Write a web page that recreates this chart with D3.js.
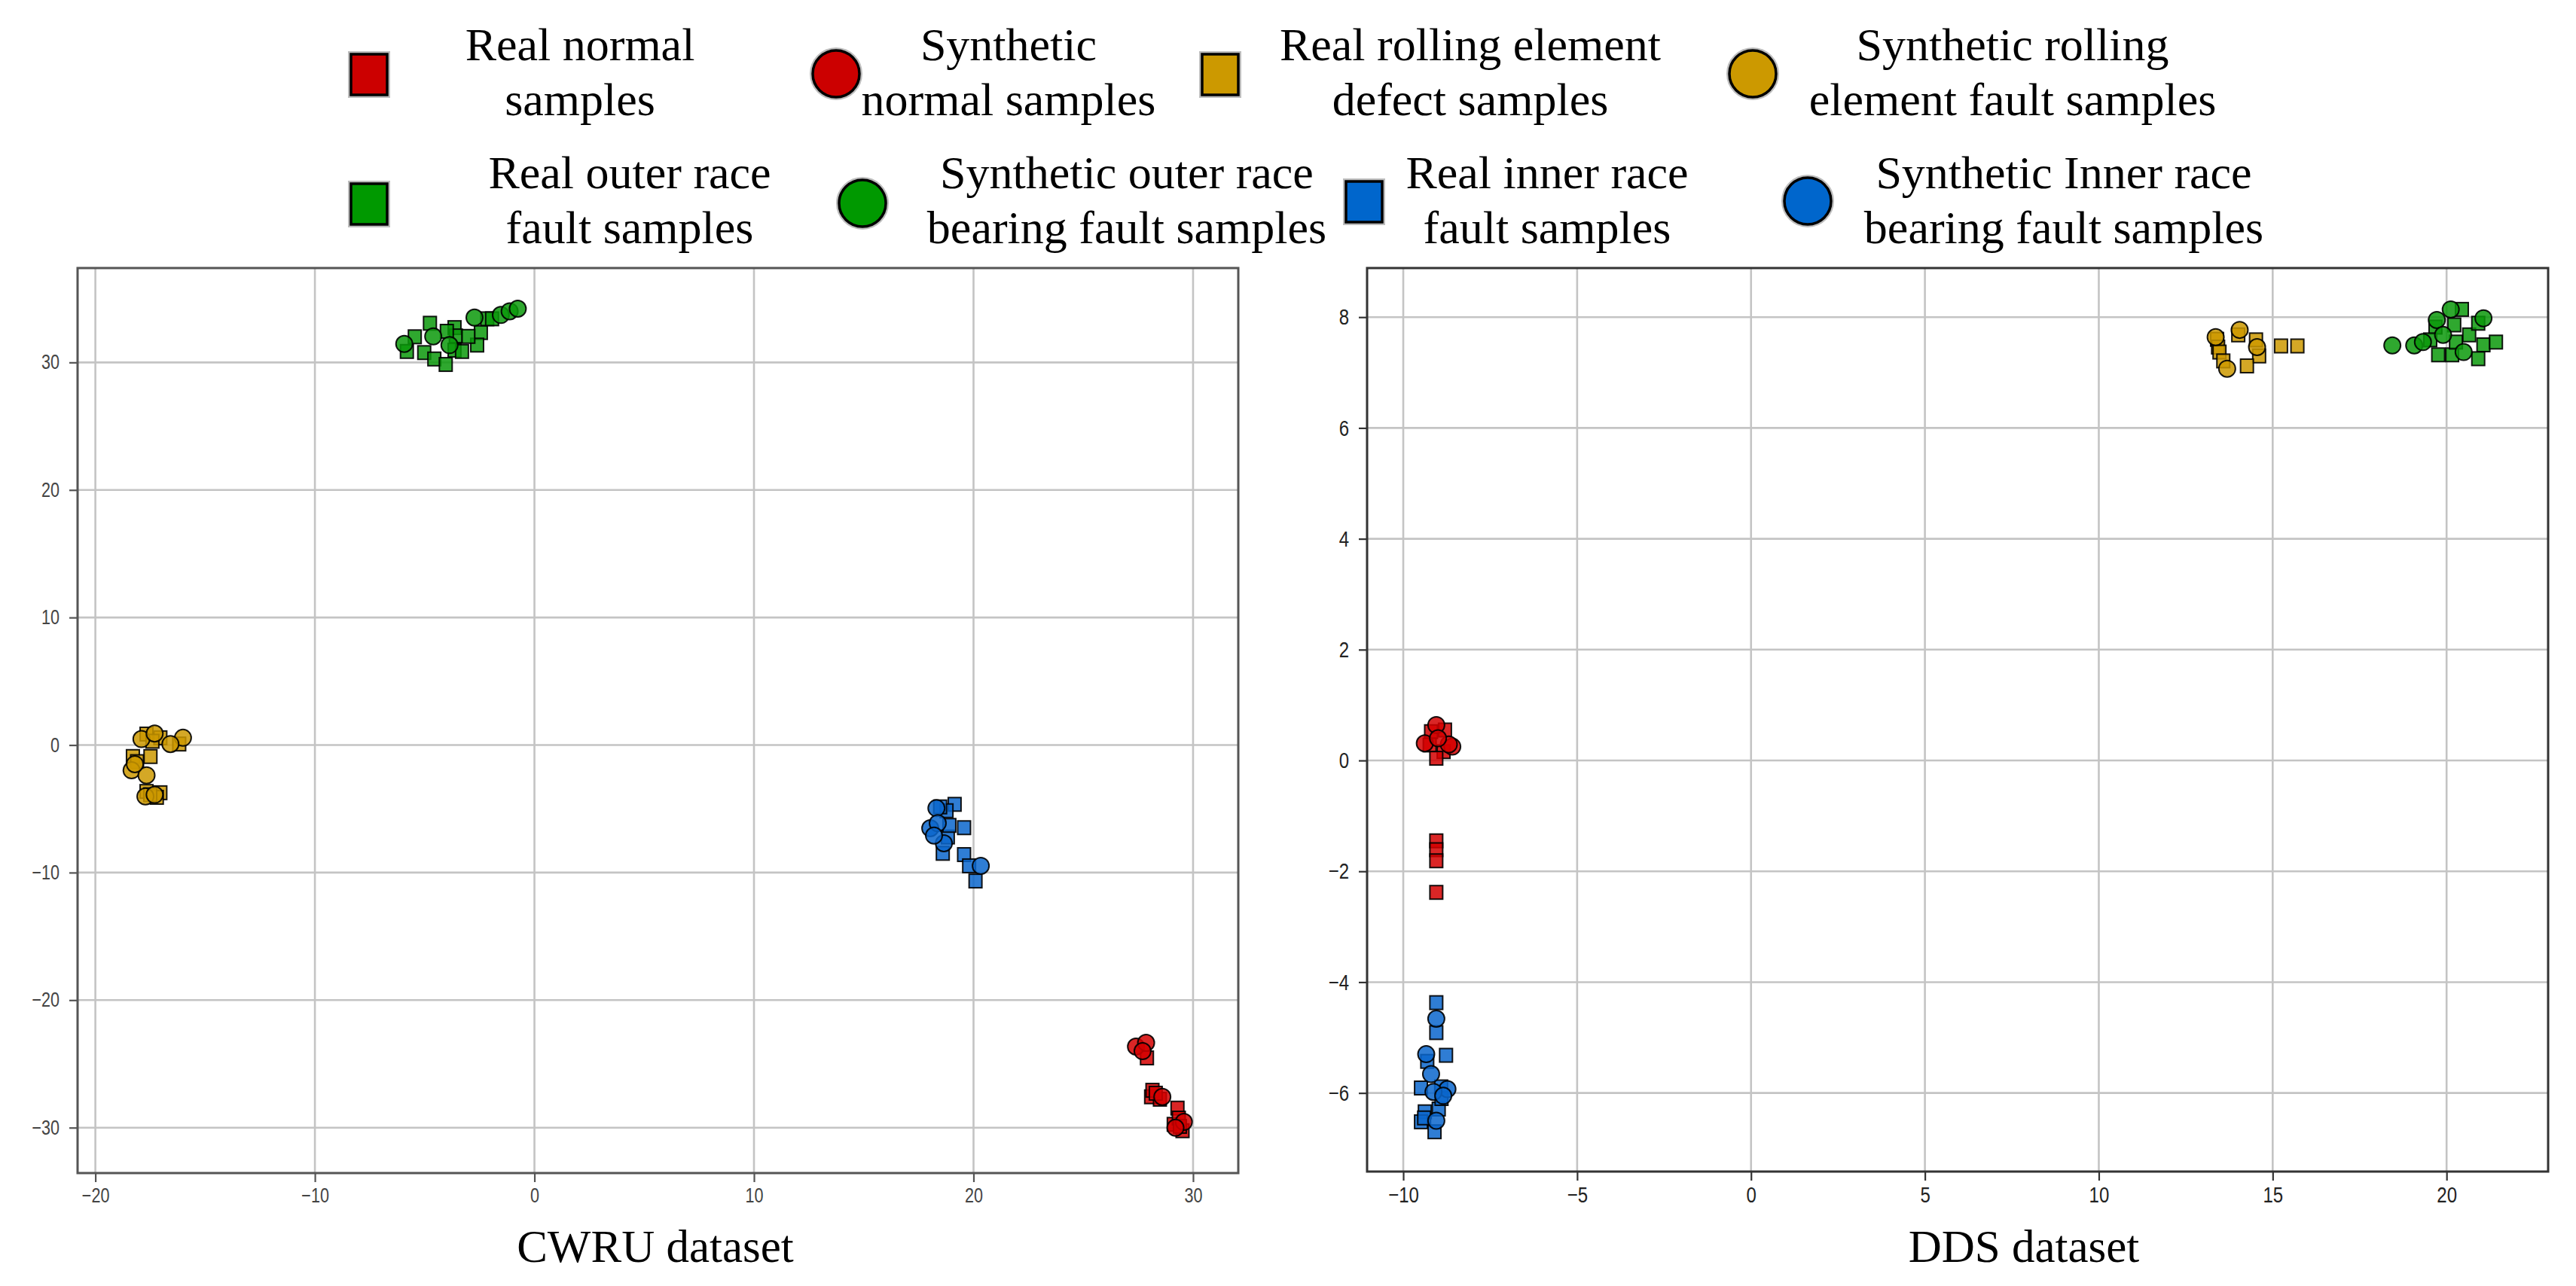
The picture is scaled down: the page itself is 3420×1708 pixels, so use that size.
<!DOCTYPE html>
<html>
<head>
<meta charset="utf-8">
<script src="https://cdn.jsdelivr.net/npm/d3@7"></script>
<style>
  html, body { margin: 0; padding: 0; background: #ffffff; }
  svg { display: block; }
</style>
</head>
<body>
<script>
// ---------------- DATA ----------------
const classNames = ["normal", "rolling", "outer", "inner"];
const classColors = ["#d40000", "#cc9900", "#0a990a", "#0a66cc"];

const legendLabels = [
  ["Real normal", "samples"],
  ["Synthetic", "normal samples"],
  ["Real rolling element", "defect samples"],
  ["Synthetic rolling", "element fault samples"],
  ["Real outer race", "fault samples"],
  ["Synthetic outer race", "bearing fault samples"],
  ["Real inner race", "fault samples"],
  ["Synthetic Inner race", "bearing fault samples"]
];

const panelTitles = ["CWRU dataset", "DDS dataset"];

const cwruTicksX = [-20, -10, 0, 10, 20, 30];
const cwruTicksY = [-30, -20, -10, 0, 10, 20, 30];
const ddsTicksX = [-10, -5, 0, 5, 10, 15, 20];
const ddsTicksY = [-6, -4, -2, 0, 2, 4, 6, 8];

// CWRU (left panel)
const cwruRealNormal = [[27.9,-24.53],[28.09,-27.58],[28.49,-27.77],[29.29,-28.47],[29.12,-29.74],[29.52,-30.24],[28.15,-27.07],[29.35,-29.25],[28.3,-27.3],[29.4,-29.9]];
const cwruSynNormal  = [[27.4,-23.64],[27.86,-23.35],[28.6,-27.58],[29.58,-29.55],[27.7,-24.0],[29.2,-30.0]];
const cwruRealBall   = [[-17.67,0.86],[-17.04,0.57],[-18.29,-0.9],[-17.49,-0.9],[-17.04,-3.74],[-17.67,-3.64],[-16.18,0.08],[-17.4,0.3],[-18.1,-1.3],[-17.2,-4.1],[-17.5,-3.9]];
const cwruSynBall    = [[-16.01,0.57],[-18.35,-1.98],[-17.67,-2.37],[-17.72,-4.03],[-16.58,0.08],[-17.9,0.47],[-17.3,-3.9],[-18.2,-1.5],[-17.3,0.9]];
const cwruRealOuter  = [[-4.76,33.07],[-5.45,32.01],[-5.81,30.86],[-5.02,30.77],[-4.56,30.27],[-4.04,29.84],[-3.64,32.73],[-3.58,32.08],[-3.64,30.96],[-2.44,32.34],[-2.61,31.36],[-2.15,33.42],[-1.93,33.42],[-3.01,32.04],[-3.3,30.86],[-3.99,32.44]];
const cwruSynOuter   = [[-5.93,31.45],[-4.61,32.04],[-2.73,33.52],[-1.53,33.72],[-1.13,34.01],[-0.76,34.21],[-3.87,31.36]];
const cwruRealInner  = [[19.14,-4.65],[18.77,-5.15],[19.57,-6.48],[18.83,-7.21],[18.6,-8.49],[19.57,-8.59],[20.09,-10.66],[19.8,-9.47],[18.48,-4.85],[18.9,-6.3]];
const cwruSynInner   = [[18.31,-4.95],[18.03,-6.52],[18.37,-6.13],[20.33,-9.47],[18.65,-7.7],[18.2,-7.1]];

// DDS (right panel)
const ddsRealNormal = [[-9.2,0.52],[-8.8,0.55],[-9.24,0.28],[-8.84,0.16],[-9.05,0.04],[-9.05,-1.45],[-9.05,-1.61],[-9.05,-1.81],[-9.05,-2.38]];
const ddsSynNormal  = [[-9.38,0.31],[-8.59,0.25],[-9.05,0.64],[-8.69,0.29],[-9.0,0.4]];
const ddsRealBall   = [[13.4,7.6],[13.43,7.46],[13.47,7.37],[14.01,7.68],[14.52,7.59],[14.61,7.3],[14.26,7.12],[15.24,7.48],[15.71,7.48],[13.58,7.21]];
const ddsSynBall    = [[13.69,7.07],[14.05,7.77],[13.36,7.64],[14.55,7.46]];
const ddsRealOuter  = [[20.44,8.14],[19.68,7.82],[19.53,7.59],[20.22,7.86],[20.65,7.68],[20.91,7.89],[21.06,7.5],[21.42,7.55],[19.76,7.32],[20.16,7.32],[20.91,7.25],[20.27,7.55]];
const ddsSynOuter   = [[18.44,7.49],[19.07,7.49],[19.32,7.55],[19.72,7.95],[20.12,8.14],[21.06,7.98],[19.9,7.68],[20.49,7.37]];
const ddsRealInner  = [[-9.05,-4.37],[-9.05,-4.91],[-8.77,-5.32],[-9.31,-5.43],[-9.49,-5.91],[-8.91,-5.89],[-9.38,-6.34],[-8.98,-6.29],[-9.49,-6.52],[-9.1,-6.7],[-9.4,-6.45],[-8.9,-6.1]];
const ddsSynInner   = [[-9.05,-4.66],[-9.34,-5.3],[-9.2,-5.66],[-8.73,-5.93],[-9.13,-5.98],[-8.85,-6.05],[-9.05,-6.5]];

// ---------------- LAYOUT ----------------
const W = 3420, H = 1708;
const svg = d3.select("body").append("svg").attr("width", W).attr("height", H);

const panels = [
  {
    title: panelTitles[0],
    xDomain: [-20.81, 32.06], yDomain: [-33.56, 37.4],
    left: 103, right: 1644, top: 356, bottom: 1558,
    ticksX: cwruTicksX, ticksY: cwruTicksY,
    real: [cwruRealNormal, cwruRealBall, cwruRealOuter, cwruRealInner],
    syn: [cwruSynNormal, cwruSynBall, cwruSynOuter, cwruSynInner],
    tickFont: 27, tickColor: "#444", spineColor: "#555",
    titleX: 870
  },
  {
    title: panelTitles[1],
    xDomain: [-11.04, 22.92], yDomain: [-7.418, 8.886],
    left: 1815, right: 3383, top: 356, bottom: 1556,
    ticksX: ddsTicksX, ticksY: ddsTicksY,
    real: [ddsRealNormal, ddsRealBall, ddsRealOuter, ddsRealInner],
    syn: [ddsSynNormal, ddsSynBall, ddsSynOuter, ddsSynInner],
    tickFont: 30, tickColor: "#222", spineColor: "#333",
    titleX: 2687
  }
];

const fmt = d => d < 0 ? "\u2212" + Math.abs(d) : String(d);
const SQ_W = 17, SQ_H = 18, CR = 11;
const SX = 0.8; // horizontal squeeze of tick labels

panels.forEach(p => {
  const x = d3.scaleLinear().domain(p.xDomain).range([p.left, p.right]);
  const y = d3.scaleLinear().domain(p.yDomain).range([p.bottom, p.top]);
  const g = svg.append("g");

  // grid
  g.append("g").selectAll("line").data(p.ticksX).join("line")
    .attr("x1", d => x(d)).attr("x2", d => x(d))
    .attr("y1", p.top).attr("y2", p.bottom)
    .attr("stroke", "#c4c4c4").attr("stroke-width", 2.6);
  g.append("g").selectAll("line").data(p.ticksY).join("line")
    .attr("y1", d => y(d)).attr("y2", d => y(d))
    .attr("x1", p.left).attr("x2", p.right)
    .attr("stroke", "#c4c4c4").attr("stroke-width", 2.6);

  // points: real squares then synthetic circles per class
  classNames.forEach((c, i) => {
    g.append("g").selectAll("rect").data(p.real[i]).join("rect")
      .attr("x", d => x(d[0]) - SQ_W / 2).attr("y", d => y(d[1]) - SQ_H / 2)
      .attr("width", SQ_W).attr("height", SQ_H)
      .attr("fill", classColors[i]).attr("fill-opacity", 0.85)
      .attr("stroke", "#000").attr("stroke-opacity", 0.9).attr("stroke-width", 2);
    g.append("g").selectAll("circle").data(p.syn[i]).join("circle")
      .attr("cx", d => x(d[0])).attr("cy", d => y(d[1])).attr("r", CR)
      .attr("fill", classColors[i]).attr("fill-opacity", 0.85)
      .attr("stroke", "#000").attr("stroke-opacity", 0.9).attr("stroke-width", 2);
  });

  // axes
  const ax = g.append("g").attr("transform", `translate(0,${p.bottom})`)
    .call(d3.axisBottom(x).tickValues(p.ticksX).tickFormat(fmt).tickSize(12).tickPadding(8));
  const ay = g.append("g").attr("transform", `translate(${p.left},0)`)
    .call(d3.axisLeft(y).tickValues(p.ticksY).tickFormat(fmt).tickSize(11).tickPadding(13));
  [ax, ay].forEach(a => {
    a.select(".domain").remove();
    a.selectAll(".tick line").attr("stroke", p.spineColor).attr("stroke-width", 2.2);
    a.selectAll(".tick text")
      .attr("font-family", "'Liberation Sans', Arial, sans-serif")
      .attr("font-size", p.tickFont).attr("fill", p.tickColor);
  });
  ax.selectAll(".tick text").attr("transform", `scale(${SX},1)`);
  ay.selectAll(".tick text")
    .attr("x", -(11 + 13) / SX)
    .attr("transform", `scale(${SX},1)`);

  // frame
  g.append("rect")
    .attr("x", p.left).attr("y", p.top)
    .attr("width", p.right - p.left).attr("height", p.bottom - p.top)
    .attr("fill", "none").attr("stroke", p.spineColor).attr("stroke-width", 3);

  // title
  g.append("text")
    .attr("x", p.titleX).attr("y", 1676)
    .attr("text-anchor", "middle")
    .attr("font-family", "'Liberation Serif', 'Times New Roman', serif")
    .attr("font-size", 61).attr("fill", "#000")
    .text(p.title);
});

// ---------------- LEGEND ----------------
const legendItems = [
  {mx: 490,  my: 99,  shape: "square", cls: 0, tx: 770},
  {mx: 1110, my: 98,  shape: "circle", cls: 0, tx: 1339},
  {mx: 1620, my: 99,  shape: "square", cls: 1, tx: 1952},
  {mx: 2327, my: 98,  shape: "circle", cls: 1, tx: 2672},
  {mx: 490,  my: 271, shape: "square", cls: 2, tx: 836},
  {mx: 1145, my: 270, shape: "circle", cls: 2, tx: 1496},
  {mx: 1811, my: 268, shape: "square", cls: 3, tx: 2054},
  {mx: 2400, my: 267, shape: "circle", cls: 3, tx: 2740}
];
const legendColors = ["#cc0000", "#cc9900", "#009900", "#0066cc"];
const lg = svg.append("g");
legendItems.forEach((it, i) => {
  const col = legendColors[it.cls];
  if (it.shape === "square") {
    lg.append("rect").attr("x", it.mx - 24).attr("y", it.my - 27)
      .attr("width", 48).attr("height", 54)
      .attr("fill", "none").attr("stroke", "#bdbdbd").attr("stroke-width", 8);
    lg.append("rect").attr("x", it.mx - 24).attr("y", it.my - 27)
      .attr("width", 48).attr("height", 54)
      .attr("fill", col).attr("stroke", "#000").attr("stroke-width", 3.5);
  } else {
    lg.append("circle").attr("cx", it.mx).attr("cy", it.my).attr("r", 31)
      .attr("fill", "none").attr("stroke", "#bdbdbd").attr("stroke-width", 8);
    lg.append("circle").attr("cx", it.mx).attr("cy", it.my).attr("r", 31)
      .attr("fill", col).attr("stroke", "#000").attr("stroke-width", 3.5);
  }
  const base1 = it.my < 180 ? 80 : 250;
  const t = lg.append("text")
    .attr("text-anchor", "middle")
    .attr("font-family", "'Liberation Serif', 'Times New Roman', serif")
    .attr("font-size", 62).attr("fill", "#000");
  t.append("tspan").attr("x", it.tx).attr("y", base1).text(legendLabels[i][0]);
  t.append("tspan").attr("x", it.tx).attr("y", base1 + 73).text(legendLabels[i][1]);
});
</script>
</body>
</html>
